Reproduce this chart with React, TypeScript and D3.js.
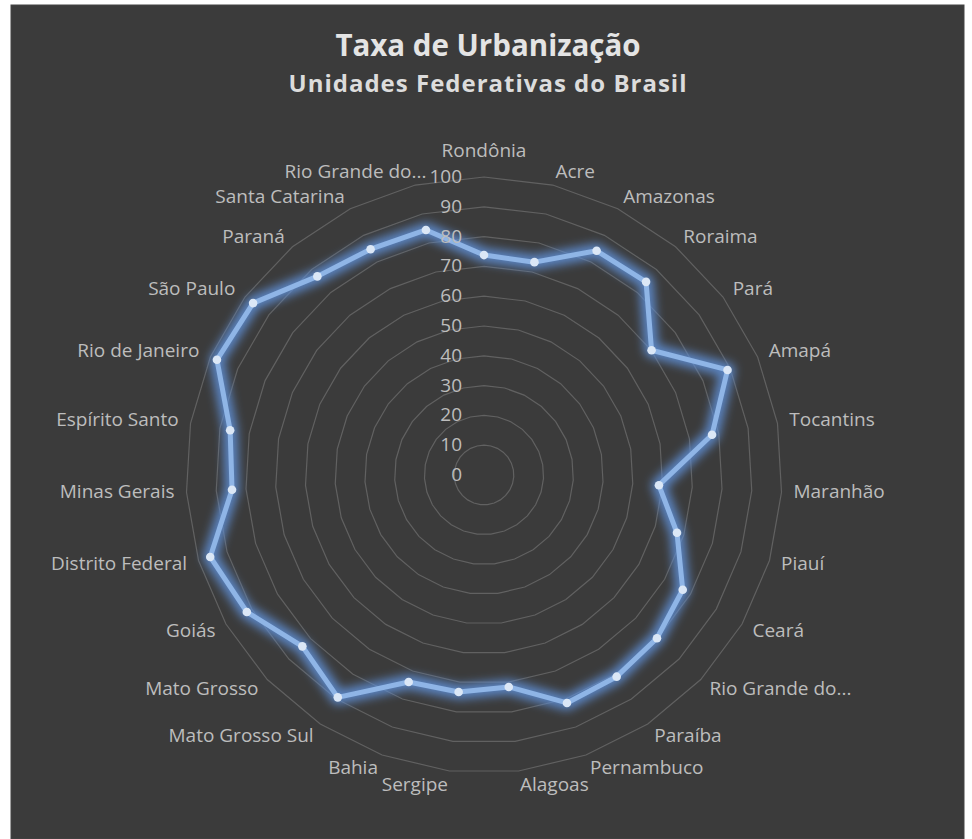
import React from "react";
import * as d3 from "d3";

const categories: string[] = [
  "Rondônia", "Acre", "Amazonas", "Roraima", "Pará", "Amapá", "Tocantins",
  "Maranhão", "Piauí", "Ceará", "Rio Grande do...", "Paraíba", "Pernambuco",
  "Alagoas", "Sergipe", "Bahia", "Mato Grosso Sul", "Mato Grosso", "Goiás",
  "Distrito Federal", "Minas Gerais", "Espírito Santo", "Rio de Janeiro",
  "São Paulo", "Paraná", "Santa Catarina", "Rio Grande do...",
];

const urbanRate: number[] = [
  73.8, 73.4, 84.2, 84.6, 70.1, 89.0, 77.7, 58.8, 67.6, 77.0, 79.8, 81.0, 81.4,
  71.6, 73.3, 73.9, 89.3, 83.8, 91.9, 95.9, 84.7, 86.5, 97.6, 96.6, 87.0, 84.8, 84.5,
];

const ticks: number[] = [0, 10, 20, 30, 40, 50, 60, 70, 80, 90, 100];

const title = "Taxa de Urbanização";
const subtitle = "Unidades Federativas do Brasil";

export default function App() {
  const W = 972, H = 839;
  const cx = 484, cy = 475, R = 298;
  const n = categories.length;
  const r = d3.scaleLinear().domain([0, 100]).range([0, R]);
  const angle = d3.scaleLinear().domain([0, n]).range([0, 2 * Math.PI]);

  const ringLine = d3
    .lineRadial<number>()
    .angle((_, i) => angle(i))
    .radius((v) => r(v))
    .curve(d3.curveLinearClosed);

  const dataLine = d3
    .lineRadial<number>()
    .angle((_, i) => angle(i))
    .radius((v) => r(v))
    .curve(d3.curveLinearClosed);

  const font = "'Open Sans', 'Noto Sans', sans-serif";
  const fs = 19;

  return (
    <div style={{ position: "absolute", left: 0, top: 0, width: W, height: H }}>
      <svg width={W} height={H} style={{ display: "block" }}>
        <defs>
          <filter id="glow" x="-20%" y="-20%" width="140%" height="140%">
            <feGaussianBlur stdDeviation="5" />
          </filter>
        </defs>
        <rect x={0} y={0} width={W} height={H} fill="#ffffff" />
        <rect x={11} y={5} width={953} height={834} fill="#3b3b3b" stroke="#454545" strokeWidth={1} />

        <text x={cx + 4} y={56} textAnchor="middle" fill="#e4e4e4" fontFamily={font} fontWeight={700} fontSize={29.5}>
          {title}
        </text>
        <text x={cx + 4} y={92} textAnchor="middle" fill="#dcdcdc" fontFamily={font} fontWeight={700} fontSize={24} letterSpacing={1}>
          {subtitle}
        </text>

        <g transform={`translate(${cx},${cy})`}>
          {ticks.filter((t) => t > 0).map((t) => (
            <path
              key={t}
              d={ringLine(new Array(n).fill(t)) || ""}
              fill="none"
              stroke="#616161"
              strokeWidth={1.2}
            />
          ))}

          <path
            d={dataLine(urbanRate) || ""}
            fill="none"
            stroke="#5f8fd6"
            strokeOpacity={0.85}
            strokeWidth={15}
            strokeLinejoin="round"
            filter="url(#glow)"
          />
          <path
            d={dataLine(urbanRate) || ""}
            fill="none"
            stroke="#8fb5e6"
            strokeWidth={5}
            strokeLinejoin="round"
          />
          {urbanRate.map((v, i) => {
            const a = angle(i);
            return (
              <circle
                key={i}
                cx={r(v) * Math.sin(a)}
                cy={-r(v) * Math.cos(a)}
                r={4.3}
                fill="#dbe7f6"
              />
            );
          })}

          {ticks.map((t) => (
            <text
              key={t}
              x={-22}
              y={-r(t) + 6}
              textAnchor="end"
              fill="#bdbdbd"
              fontFamily={font}
              fontSize={fs}
            >
              {t}
            </text>
          ))}

          {categories.map((c, i) => {
            const a = angle(i);
            const s = Math.sin(a);
            const co = Math.cos(a);
            const rr = R + 12;
            let x = rr * s;
            const y = -rr * co;
            let anchor = "middle";
            let by = y + 6;
            if (Math.abs(s) < 0.05) {
              anchor = "middle";
              by = co > 0 ? y - 8 : y + 18;
            } else {
              anchor = s > 0 ? "start" : "end";
              by = y + 5 + (co < 0 ? -co * 3 : 0);
            }
            // Excel pushes the truncated last label towards the axis
            if (i === n - 1) x += 14;
            return (
              <text
                key={i}
                x={x}
                y={by}
                textAnchor={anchor}
                fill="#bdbdbd"
                fontFamily={font}
                fontSize={fs}
              >
                {c}
              </text>
            );
          })}
        </g>
      </svg>
    </div>
  );
}
